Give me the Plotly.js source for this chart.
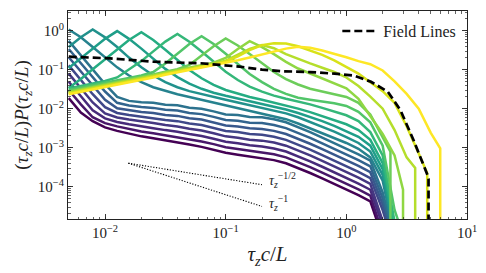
<!DOCTYPE html>
<html><head><meta charset="utf-8">
<script src="https://cdn.plot.ly/plotly-3.0.1.min.js"></script>
<style>html,body{margin:0;padding:0;background:#fff}#chart{width:486px;height:273px}</style>
</head><body><div id="chart"></div>
<script>
// shared sample grid of tau_z c / L
const tauGrid = [0.005,0.0063,0.0079,0.01,0.0126,0.0158,0.02,0.0251,0.0316,0.0398,0.05,0.0631,0.0794,0.1,0.126,0.158,0.2,0.251,0.316,0.398,0.501,0.631,0.794,1.0,1.26,1.58,2.0,2.51,3.16,3.98,5.01,6.0];

// log10 of (tau c/L) P(tau c/L), one array per curve
const log10P_c00 = [-1.73,-2.10,-2.32,-2.48,-2.57,-2.64,-2.71,-2.76,-2.81,-2.86,-2.92,-2.98,-3.05,-3.13,-3.18,-3.23,-3.27,-3.32,-3.40,-3.52,-3.65,-3.79,-3.93,-4.08,-4.22,-4.38,-5.3];
const log10P_c01 = [-1.52,-1.89,-2.22,-2.37,-2.455,-2.52,-2.585,-2.63,-2.68,-2.725,-2.785,-2.84,-2.91,-2.99,-3.035,-3.085,-3.12,-3.17,-3.25,-3.37,-3.50,-3.64,-3.78,-3.93,-4.07,-4.23,-5.2];
const log10P_c02 = [-1.31,-1.68,-2.04,-2.25,-2.34,-2.40,-2.46,-2.50,-2.55,-2.59,-2.65,-2.70,-2.77,-2.85,-2.89,-2.94,-2.97,-3.02,-3.10,-3.22,-3.35,-3.49,-3.63,-3.78,-3.92,-4.08,-5.0];
const log10P_c03 = [-1.10,-1.47,-1.84,-2.12,-2.225,-2.28,-2.335,-2.37,-2.42,-2.455,-2.515,-2.56,-2.63,-2.71,-2.745,-2.795,-2.82,-2.87,-2.95,-3.07,-3.20,-3.34,-3.48,-3.63,-3.77,-3.93,-4.85,-5.8];
const log10P_c04 = [-0.89,-1.26,-1.63,-1.96,-2.11,-2.16,-2.21,-2.24,-2.29,-2.32,-2.38,-2.42,-2.49,-2.57,-2.60,-2.65,-2.67,-2.72,-2.80,-2.92,-3.05,-3.19,-3.33,-3.48,-3.62,-3.78,-4.6,-5.6];
const log10P_c05 = [-0.68,-1.05,-1.42,-1.77,-1.99,-2.04,-2.085,-2.11,-2.16,-2.185,-2.245,-2.28,-2.35,-2.43,-2.455,-2.505,-2.52,-2.57,-2.65,-2.77,-2.90,-3.04,-3.18,-3.33,-3.47,-3.63,-4.45,-5.5];
const log10P_c06 = [-0.47,-0.84,-1.21,-1.56,-1.85,-1.92,-1.96,-1.98,-2.03,-2.05,-2.11,-2.14,-2.21,-2.29,-2.31,-2.36,-2.37,-2.42,-2.50,-2.62,-2.75,-2.89,-3.03,-3.18,-3.32,-3.48,-4.3,-5.4];
const log10P_c07 = [-0.26,-0.63,-1.00,-1.37,-1.70,-1.80,-1.835,-1.85,-1.90,-1.915,-1.975,-2.00,-2.07,-2.15,-2.165,-2.215,-2.22,-2.27,-2.35,-2.47,-2.60,-2.74,-2.88,-3.03,-3.17,-3.33,-4.15,-5.3];
const log10P_c08 = [0.03,-0.17,-0.42,-0.69,-0.94,-1.15,-1.32,-1.45,-1.55,-1.63,-1.70,-1.77,-1.84,-1.91,-1.98,-2.05,-2.12,-2.19,-2.27,-2.38,-2.50,-2.62,-2.75,-2.88,-3.03,-3.25,-3.85,-5.3];
const log10P_c09 = [-0.42,-0.17,0.03,-0.17,-0.42,-0.69,-0.94,-1.15,-1.32,-1.45,-1.55,-1.63,-1.70,-1.77,-1.84,-1.91,-1.98,-2.05,-2.12,-2.22,-2.34,-2.46,-2.59,-2.73,-2.88,-3.10,-3.70,-5.2];
const log10P_c10 = [-0.96,-0.71,-0.46,-0.21,-0.01,-0.21,-0.46,-0.73,-0.98,-1.19,-1.36,-1.49,-1.59,-1.67,-1.74,-1.81,-1.88,-1.95,-2.02,-2.11,-2.21,-2.32,-2.44,-2.57,-2.72,-2.95,-3.55,-5.1];
const log10P_c11 = [-1.47,-1.24,-0.99,-0.74,-0.49,-0.24,-0.04,-0.24,-0.49,-0.76,-1.01,-1.22,-1.39,-1.52,-1.62,-1.70,-1.77,-1.84,-1.91,-2.00,-2.09,-2.19,-2.30,-2.40,-2.55,-2.80,-3.40,-5.0];
const log10P_c12 = [-1.48,-1.42,-1.36,-1.29,-1.20,-1.00,-0.78,-0.53,-0.28,-0.085,-0.285,-0.535,-0.805,-1.055,-1.265,-1.435,-1.565,-1.665,-1.745,-1.815,-1.89,-1.98,-2.07,-2.17,-2.32,-2.60,-3.20,-4.9];
const log10P_c13 = [-1.52,-1.46,-1.40,-1.33,-1.27,-1.21,-1.15,-1.06,-0.84,-0.59,-0.34,-0.14,-0.34,-0.59,-0.86,-1.11,-1.32,-1.49,-1.62,-1.72,-1.77,-1.82,-1.86,-1.93,-2.08,-2.35,-2.95,-4.6,-5.5];
const log10P_c14 = [-1.55,-1.49,-1.43,-1.36,-1.30,-1.24,-1.18,-1.12,-1.05,-0.99,-0.88,-0.65,-0.40,-0.20,-0.38,-0.60,-0.84,-1.06,-1.24,-1.38,-1.49,-1.57,-1.63,-1.70,-1.85,-2.15,-2.75];
const log10P_c15 = [-1.57,-1.51,-1.45,-1.38,-1.32,-1.26,-1.20,-1.14,-1.07,-1.01,-0.95,-0.89,-0.82,-0.70,-0.47,-0.27,-0.42,-0.60,-0.80,-0.97,-1.10,-1.22,-1.34,-1.48,-1.75,-2.20,-2.65,-3.20];
const log10P_c16 = [-1.59,-1.53,-1.47,-1.40,-1.34,-1.28,-1.22,-1.16,-1.09,-1.03,-0.97,-0.91,-0.85,-0.77,-0.62,-0.47,-0.37,-0.45,-0.60,-0.73,-0.84,-0.95,-1.06,-1.20,-1.42,-1.69,-2.00,-2.55,-3.25];
const log10P_c17 = [-1.61,-1.55,-1.49,-1.42,-1.36,-1.30,-1.24,-1.18,-1.11,-1.05,-0.99,-0.93,-0.87,-0.79,-0.66,-0.50,-0.37,-0.32,-0.33,-0.40,-0.50,-0.62,-0.76,-0.92,-1.10,-1.32,-1.55,-1.85,-2.45,-3.15];
const log10P_c18 = [-1.63,-1.57,-1.51,-1.44,-1.38,-1.32,-1.26,-1.20,-1.13,-1.07,-1.01,-0.95,-0.89,-0.82,-0.76,-0.69,-0.61,-0.53,-0.46,-0.41,-0.44,-0.51,-0.59,-0.68,-0.78,-0.86,-1.02,-1.30,-1.62,-2.00,-2.62];

// sharp cut-offs (vertical drops) of the brightest curves
const cutCurve = [14, 15, 16, 17, 18];
const cutTau = [2.32, 2.95, 3.72, 4.68, 6.0];
const cutLog10P = [-3.1, -4.08, -3.52, -3.66, -3.02];

// field lines (dashed)
const fieldTau = [0.005,0.011,0.025,0.062,0.13,0.2,0.3,0.5,0.8,1.15,1.6,2.2,2.8,3.6,4.7,4.8,4.8];
const fieldP = [0.215,0.195,0.160,0.146,0.120,0.100,0.091,0.087,0.079,0.071,0.049,0.0275,0.0093,0.00158,2.0e-4,1.6e-4,1e-7];

// reference power laws
const refTau = [0.0156, 0.2];
const refHalfP = [4.0e-4, 1.12e-4];
const refOneP = [4.0e-4, 3.1e-5];

const xTickVals = [0.01, 0.1, 1, 10];
const xTickText = ['10<sup>\u22122</sup>', '10<sup>\u22121</sup>', '10<sup>0</sup>', '10<sup>1</sup>'];
const yTickVals = [1e-4, 1e-3, 1e-2, 1e-1, 1];
const yTickText = ['10<sup>\u22124</sup>', '10<sup>\u22123</sup>', '10<sup>\u22122</sup>', '10<sup>\u22121</sup>', '10<sup>0</sup>'];

const curveColors = ['#440154','#481769','#472a7a','#453781','#3f4889','#38588c','#32648e','#2c728e','#26828e','#21918c','#1f9e89','#25ac82','#35b779','#52c569','#6ccd5a','#90d743','#b5de2b','#d8e219','#fde725'];

const curves = [log10P_c00,log10P_c01,log10P_c02,log10P_c03,log10P_c04,log10P_c05,log10P_c06,log10P_c07,log10P_c08,log10P_c09,log10P_c10,log10P_c11,log10P_c12,log10P_c13,log10P_c14,log10P_c15,log10P_c16,log10P_c17,log10P_c18];

const traces = [];
curves.forEach((L, i) => {
  const xs = tauGrid.slice(0, L.length);
  const ys = L.map(v => Math.pow(10, v));
  const k = cutCurve.indexOf(i);
  if (k >= 0) {
    xs.push(cutTau[k], cutTau[k]);
    ys.push(Math.pow(10, cutLog10P[k]), 1e-7);
  }
  traces.push({x: xs, y: ys, type: 'scatter', mode: 'lines', showlegend: false, hoverinfo: 'skip',
    line: {color: curveColors[i], width: 2.5}});
});
traces.push({x: fieldTau, y: fieldP, type: 'scatter', mode: 'lines', name: 'Field Lines',
  line: {color: '#000', width: 2.7, dash: '8px,4px'}});
traces.push({x: refTau, y: refHalfP, type: 'scatter', mode: 'lines', showlegend: false,
  line: {color: '#000', width: 1.1, dash: '1.2px,1.6px'}});
traces.push({x: refTau, y: refOneP, type: 'scatter', mode: 'lines', showlegend: false,
  line: {color: '#000', width: 1.1, dash: '1.2px,1.6px'}});

const FONT = 'Liberation Serif, Times New Roman, serif';
const axisCommon = {
  type: 'log', tickmode: 'array', ticks: 'inside', ticklen: 5, tickwidth: 0.9, tickcolor: '#222',
  showline: true, linecolor: '#222', linewidth: 1, mirror: 'allticks', showgrid: false, zeroline: false,
  tickfont: {family: FONT, size: 15, color: '#222'},
  minor: {dtick: 'D1', ticks: 'inside', ticklen: 2.5, tickwidth: 0.7, tickcolor: '#222', showgrid: false}
};

const layout = {
  width: 486, height: 273,
  margin: {l: 68, r: 19, t: 11, b: 54},
  paper_bgcolor: '#fff', plot_bgcolor: '#fff',
  font: {family: FONT, color: '#222'},
  showlegend: true,
  legend: {x: 0.675, y: 0.985, xanchor: 'left', yanchor: 'top', bgcolor: 'rgba(0,0,0,0)', itemwidth: 36,
    font: {family: FONT, size: 16, color: '#222'}},
  xaxis: Object.assign({}, axisCommon, {
    range: [-2.307, 1.0], tickvals: xTickVals, ticktext: xTickText,
    title: {text: '<i>\u03c4</i><sub><i>z</i></sub><i>c</i>/<i>L</i>', font: {family: FONT, size: 21}, standoff: 6}
  }),
  yaxis: Object.assign({}, axisCommon, {
    range: [-4.83, 0.505], tickvals: yTickVals, ticktext: yTickText,
    title: {text: '(<i>\u03c4</i><sub><i>z</i></sub><i>c</i>/<i>L</i>)<i>P</i>(<i>\u03c4</i><sub><i>z</i></sub><i>c</i>/<i>L</i>)', font: {family: FONT, size: 19}, standoff: 4}
  }),
  annotations: [
    {x: Math.log10(0.222), y: Math.log10(1.5e-4), xref: 'x', yref: 'y', xanchor: 'left', yanchor: 'middle', showarrow: false,
     text: '<i>\u03c4</i><sub><i>z</i></sub><sup>\u22121/2</sup>', font: {family: FONT, size: 14, color: '#222'}},
    {x: Math.log10(0.222), y: Math.log10(3.8e-5), xref: 'x', yref: 'y', xanchor: 'left', yanchor: 'middle', showarrow: false,
     text: '<i>\u03c4</i><sub><i>z</i></sub><sup>\u22121</sup>', font: {family: FONT, size: 14, color: '#222'}}
  ]
};

Plotly.newPlot('chart', traces, layout, {staticPlot: true, displayModeBar: false});
</script>
</body></html>
